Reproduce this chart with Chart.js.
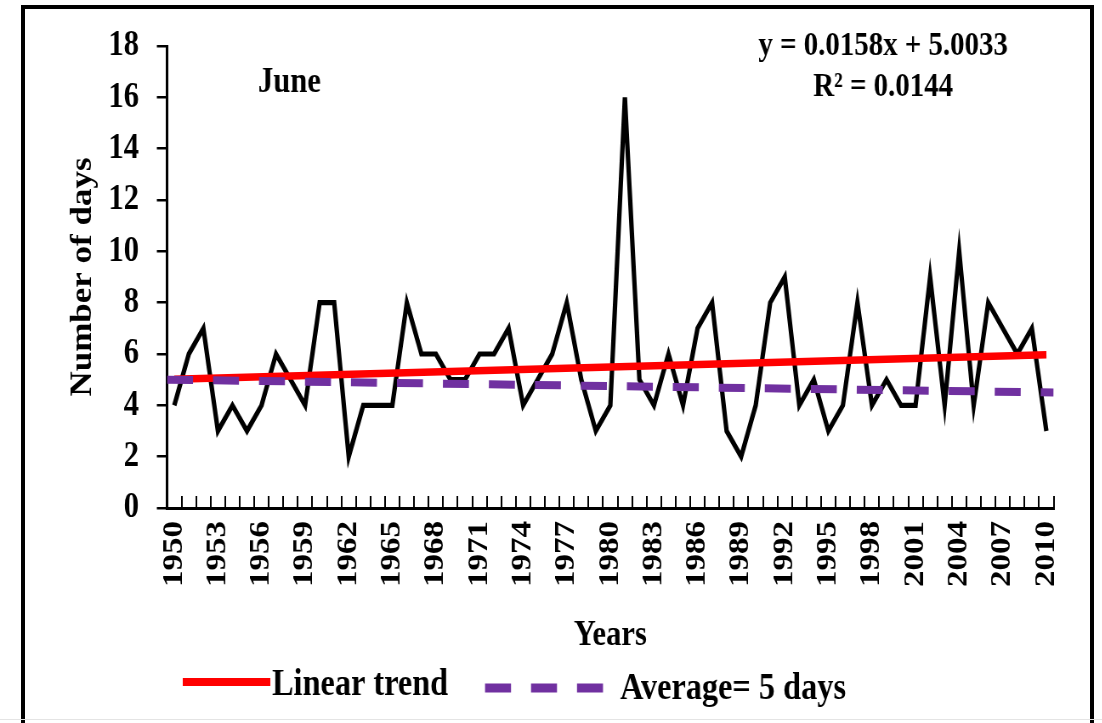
<!DOCTYPE html>
<html>
<head>
<meta charset="utf-8">
<title>June – Number of days</title>
<script src="https://cdn.jsdelivr.net/npm/chart.js@4.4.1/dist/chart.umd.min.js"></script>
<style>
  html, body { margin: 0; padding: 0; background: #fff; overflow: hidden; }
  #wrap { position: relative; width: 1102px; height: 723px; }
  /* the chart is laid out on a wider canvas and squeezed horizontally */
  #c { position: absolute; left: 0; top: 0; transform: scaleX(0.85); transform-origin: 0 0; }
  #frame { position: absolute; left: 21px; top: 5px; width: 1073px; height: 740px;
           border: 4px solid #000; border-bottom: none; box-sizing: border-box; pointer-events: none; }
  #base { position: absolute; left: 0; top: 719px; width: 1102px; height: 1px; background: #e4e4e4; }
</style>
</head>
<body>
<div id="wrap">
  <canvas id="c" width="1296" height="723" style="width:1296px;height:723px"></canvas>
  <div id="frame"></div>
  <div id="base"></div>
</div>
<script>
// Years on the category axis
const years = [
  '1950','1951','1952','1953','1954','1955','1956','1957','1958','1959',
  '1960','1961','1962','1963','1964','1965','1966','1967','1968','1969',
  '1970','1971','1972','1973','1974','1975','1976','1977','1978','1979',
  '1980','1981','1982','1983','1984','1985','1986','1987','1988','1989',
  '1990','1991','1992','1993','1994','1995','1996','1997','1998','1999',
  '2000','2001','2002','2003','2004','2005','2006','2007','2008','2009',
  '2010'
];

// Number of days in June, one value per year
const days = [
  4, 6, 7, 3, 4, 3, 4, 6, 5, 4,
  8, 8, 2, 4, 4, 4, 8, 6, 6, 5,
  5, 6, 6, 7, 4, 5, 6, 8, 5, 3,
  4, 16, 5, 4, 6, 4, 7, 8, 3, 2,
  4, 8, 9, 4, 5, 3, 4, 8, 4, 5,
  4, 4, 9, 4, 10, 4, 8, 7, 6, 7,
  3
];

// Year labels printed under the axis
const tickYears = [
  '1950','1953','1956','1959','1962','1965','1968','1971','1974','1977','1980',
  '1983','1986','1989','1992','1995','1998','2001','2004','2007','2010'
];

const yTicks = { min: 0, max: 18, step: 2 };

// Linear trend  y = slope * x + intercept  (x = 1 for 1950 ... 61 for 2010)
const slope = 0.0158;
const intercept = 5.0033;
const rSquared = 0.0144;
const trendYears = ['1950', '2010'];
const trendEnds = [slope * 1 + intercept, slope * 61 + intercept];

// Average line, from the left edge of the plot to the right edge
const avgEnds = [5.0, 4.5];

const monthName = 'June';
const FONT = '"Liberation Serif", "Times New Roman", serif';

const notes = {
  id: 'notes',
  afterDraw(chart) {
    const c = chart.ctx;
    const ds = chart.data.datasets;
    c.save();
    c.fillStyle = '#000';
    c.textBaseline = 'alphabetic';

    c.font = `bold 36px ${FONT}`;
    c.textAlign = 'left';
    c.fillText(monthName, 303.5, 92);

    c.font = `bold 34px ${FONT}`;
    c.textAlign = 'center';
    c.fillText(`y = ${slope}x + ${intercept}`, 1039, 55);
    c.fillText(`R\u00B2 = ${rSquared}`, 1039, 96);

    // legend
    c.lineCap = 'butt';
    c.strokeStyle = ds[1].borderColor;
    c.lineWidth = 8;
    c.beginPath(); c.moveTo(215, 682); c.lineTo(318, 682); c.stroke();
    c.font = `bold 38px ${FONT}`;
    c.textAlign = 'left';
    c.fillText(ds[1].label, 320, 695);

    c.strokeStyle = ds[2].borderColor;
    c.lineWidth = 9;
    c.setLineDash([30.6, 23.5]);
    c.beginPath(); c.moveTo(570.6, 688); c.lineTo(711.8, 688); c.stroke();
    c.setLineDash([]);
    c.fillText(ds[2].label, 729.4, 699);
    c.restore();
  }
};

new Chart(document.getElementById('c'), {
  type: 'line',
  data: {
    labels: years,
    datasets: [
      {
        label: monthName,
        data: days,
        borderColor: '#000',
        borderWidth: 5.2,
        pointRadius: 0,
        tension: 0,
        order: 3,
        xAxisID: 'x'
      },
      {
        label: 'Linear trend',
        data: trendYears.map((y, i) => ({ x: y, y: trendEnds[i] })),
        borderColor: '#ff0000',
        borderWidth: 7.5,
        pointRadius: 0,
        order: 2,
        xAxisID: 'x'
      },
      {
        label: 'Average= 5 days',
        data: [{ x: 0, y: avgEnds[0] }, { x: 1, y: avgEnds[1] }],
        borderColor: '#7030a0',
        borderWidth: 8,
        borderDash: [30.6, 23.5],
        borderCapStyle: 'butt',
        pointRadius: 0,
        order: 1,
        xAxisID: 'x2'
      }
    ]
  },
  options: {
    responsive: false,
    animation: false,
    devicePixelRatio: 1,
    layout: { padding: { left: 0, right: 46.6, top: 46, bottom: 0 } },
    plugins: { legend: { display: false }, tooltip: { enabled: false } },
    scales: {
      x: {
        type: 'category',
        offset: true,
        grid: { offset: true, drawOnChartArea: false, color: '#000', lineWidth: 2, tickLength: -12 },
        border: { color: '#000', width: 3 },
        ticks: {
          autoSkip: false,
          minRotation: 90,
          maxRotation: 90,
          padding: 25,
          color: '#000',
          font: { family: FONT, weight: 'bold', size: 33 },
          callback(v) {
            const l = this.getLabelForValue(v);
            return tickYears.includes(l) ? l : '';
          }
        },
        title: {
          display: true, text: 'Years', color: '#000',
          font: { family: FONT, weight: 'bold', size: 36 },
          padding: { top: 0, bottom: 66 }
        },
        afterFit(s) { s.height = 215; }
      },
      x2: { type: 'linear', display: false, min: 0, max: 1 },
      y: {
        min: yTicks.min,
        max: yTicks.max,
        ticks: {
          stepSize: yTicks.step,
          padding: 21,
          color: '#000',
          font: { family: FONT, weight: 'bold', size: 36 }
        },
        grid: { drawOnChartArea: false, color: '#000', lineWidth: 2.5, tickLength: 12 },
        border: { color: '#000', width: 3 },
        title: {
          display: true, text: 'Number of days', color: '#000',
          font: { family: FONT, weight: 'bold', size: 35 },
          padding: { top: 77, bottom: 0 }
        },
        afterFit(s) { s.width = 196.5; }
      }
    }
  },
  plugins: [notes]
});
</script>
</body>
</html>
